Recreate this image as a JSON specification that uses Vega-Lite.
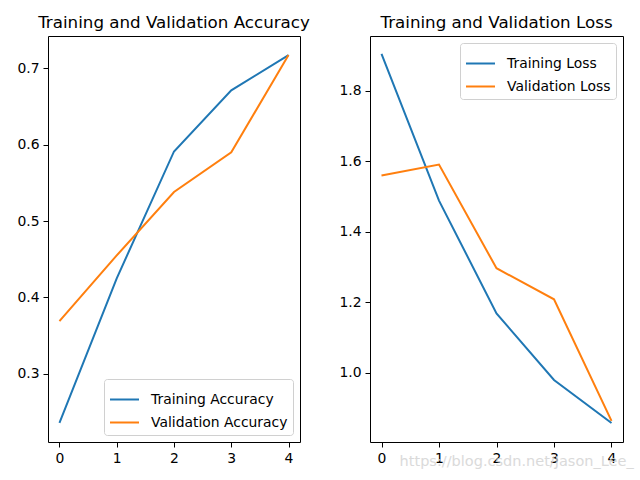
{
  "$schema": "https://vega.github.io/schema/vega-lite/v6.json",
  "background": "white",
  "padding": {"left": 16, "top": 14, "right": 5, "bottom": 5},
  "bounds": "flush",
  "config": {
    "font": "DejaVu Sans",
    "view": {"stroke": "black", "strokeWidth": 1},
    "axis": {"domain": false, "grid": false, "tickColor": "black", "tickSize": 5, "tickWidth": 1, "labelFontSize": 13.9, "labelColor": "black", "labelPadding": 4, "title": null, "labelFont": "DejaVu Sans"},
    "title": {"fontSize": 16.7, "fontWeight": "normal", "font": "DejaVu Sans", "offset": 4, "color": "black"},
    "legend": {"title": null, "fillColor": "white", "strokeColor": "#d0d0d0", "cornerRadius": 3, "padding": 5, "symbolType": "stroke", "symbolSize": 841, "symbolStrokeWidth": 2, "labelFontSize": 13.9, "labelFont": "DejaVu Sans", "labelColor": "black", "rowPadding": -4, "offset": 7, "labelOffset": 11}
  },
  "datasets": {
    "acc": [
      {"epoch": 0, "value": 0.236, "series": "Training Accuracy"},
      {"epoch": 1, "value": 0.425, "series": "Training Accuracy"},
      {"epoch": 2, "value": 0.591, "series": "Training Accuracy"},
      {"epoch": 3, "value": 0.671, "series": "Training Accuracy"},
      {"epoch": 4, "value": 0.717, "series": "Training Accuracy"},
      {"epoch": 0, "value": 0.369, "series": "Validation Accuracy"},
      {"epoch": 1, "value": 0.455, "series": "Validation Accuracy"},
      {"epoch": 2, "value": 0.538, "series": "Validation Accuracy"},
      {"epoch": 3, "value": 0.590, "series": "Validation Accuracy"},
      {"epoch": 4, "value": 0.717, "series": "Validation Accuracy"}
    ],
    "loss": [
      {"epoch": 0, "value": 1.905, "series": "Training Loss"},
      {"epoch": 1, "value": 1.489, "series": "Training Loss"},
      {"epoch": 2, "value": 1.169, "series": "Training Loss"},
      {"epoch": 3, "value": 0.980, "series": "Training Loss"},
      {"epoch": 4, "value": 0.858, "series": "Training Loss"},
      {"epoch": 0, "value": 1.560, "series": "Validation Loss"},
      {"epoch": 1, "value": 1.591, "series": "Validation Loss"},
      {"epoch": 2, "value": 1.297, "series": "Validation Loss"},
      {"epoch": 3, "value": 1.209, "series": "Validation Loss"},
      {"epoch": 4, "value": 0.864, "series": "Validation Loss"}
    ],
    "wm": [{"text": "https://blog.csdn.net/Jason_Lee_"}]
  },
  "spacing": 70,
  "resolve": {"scale": {"color": "independent"}},
  "hconcat": [
    {
      "width": 252,
      "height": 406,
      "title": "Training and Validation Accuracy",
      "data": {"name": "acc"},
      "mark": {"type": "line", "strokeWidth": 2},
      "encoding": {
        "x": {"field": "epoch", "type": "quantitative", "scale": {"domain": [-0.2, 4.2], "nice": false, "zero": false}, "axis": {"values": [0, 1, 2, 3, 4], "format": "d"}},
        "y": {"field": "value", "type": "quantitative", "scale": {"domain": [0.211, 0.742], "nice": false, "zero": false}, "axis": {"values": [0.3, 0.4, 0.5, 0.6, 0.7], "format": ".1f"}},
        "color": {"field": "series", "type": "nominal", "scale": {"domain": ["Training Accuracy", "Validation Accuracy"], "range": ["#1f77b4", "#ff7f0e"]}, "legend": {"orient": "bottom-right"}}
      }
    },
    {
      "width": 253,
      "height": 406,
      "title": "Training and Validation Loss",
      "layer": [
        {
          "data": {"name": "loss"},
          "mark": {"type": "line", "strokeWidth": 2},
          "encoding": {
            "x": {"field": "epoch", "type": "quantitative", "scale": {"domain": [-0.2, 4.2], "nice": false, "zero": false}, "axis": {"values": [0, 1, 2, 3, 4], "format": "d"}},
            "y": {"field": "value", "type": "quantitative", "scale": {"domain": [0.804, 1.956], "nice": false, "zero": false}, "axis": {"values": [1.0, 1.2, 1.4, 1.6, 1.8], "format": ".1f"}},
            "color": {"field": "series", "type": "nominal", "scale": {"domain": ["Training Loss", "Validation Loss"], "range": ["#1f77b4", "#ff7f0e"]}, "legend": {"orient": "top-right"}}
          }
        },
        {
          "data": {"name": "wm"},
          "mark": {"type": "text", "fontSize": 14.5, "color": "#d4d4d4", "opacity": 0.85, "align": "center", "baseline": "middle", "font": "DejaVu Sans"},
          "encoding": {
            "text": {"field": "text"},
            "x": {"datum": 2.35},
            "y": {"datum": 0.747}
          }
        }
      ]
    }
  ]
}
